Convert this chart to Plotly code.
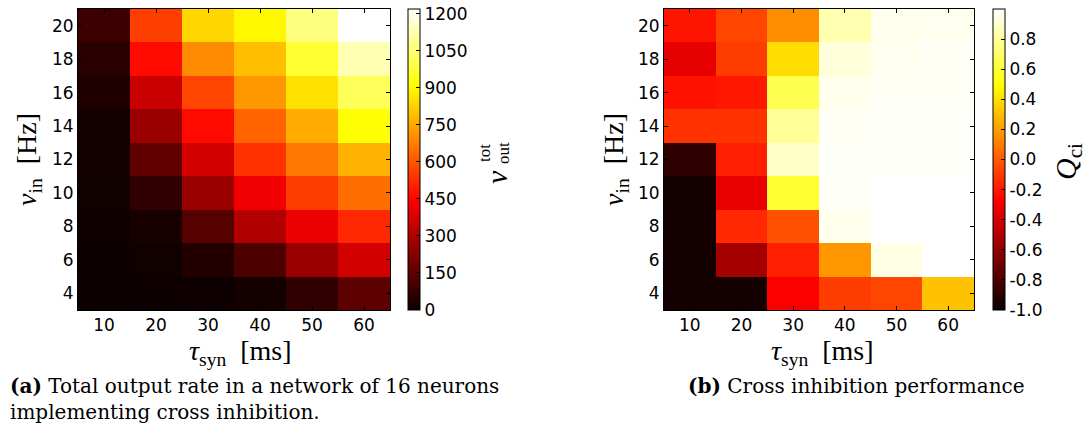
import plotly.graph_objects as go

tau_syn = [10, 20, 30, 40, 50, 60]
nu_in = [4, 6, 8, 10, 12, 14, 16, 18, 20]

# total output rate, rows = nu_in (4..20), cols = tau_syn (10..60)
rate = [
    [5, 6, 8, 20, 70, 149],
    [6, 12, 44, 122, 262, 366],
    [8, 25, 140, 305, 410, 518],
    [10, 70, 262, 419, 555, 646],
    [15, 157, 366, 536, 665, 772],
    [20, 262, 463, 627, 757, 915],
    [36, 349, 571, 720, 855, 1019],
    [55, 463, 701, 793, 971, 1127],
    [90, 561, 836, 897, 1065, 1220],
]

# cross inhibition performance Q_ci
qci = [
    [-0.97, -0.97, -0.28, -0.09, -0.06, 0.31],
    [-0.97, -0.54, -0.18, 0.18, 0.95, 1.0],
    [-0.97, -0.15, -0.03, 0.96, 1.0, 1.0],
    [-0.97, -0.33, 0.59, 0.99, 1.0, 1.0],
    [-0.89, -0.18, 0.89, 0.99, 0.99, 0.99],
    [-0.12, -0.12, 0.79, 0.98, 0.99, 0.99],
    [-0.22, -0.20, 0.65, 0.96, 0.98, 0.98],
    [-0.34, -0.09, 0.39, 0.93, 0.97, 0.98],
    [-0.21, -0.064, 0.15, 0.84, 0.96, 0.97],
]

rate_ticks = [0, 150, 300, 450, 600, 750, 900, 1050, 1200]
q_ticks = [-1.0, -0.8, -0.6, -0.4, -0.2, 0.0, 0.2, 0.4, 0.6, 0.8]
q_ticktext = ["%.1f" % v for v in q_ticks]

hot = [
    [0.0, "rgb(10,0,0)"],
    [0.365079, "rgb(255,0,0)"],
    [0.746032, "rgb(255,255,0)"],
    [1.0, "rgb(255,255,255)"],
]

W, H = 1088, 436
def px(x):
    return x / W
def py(y):
    return 1 - y / H

tickfont = dict(family="DejaVu Sans", size=17, color="black")
serif = "Liberation Serif"

fig = go.Figure()
fig.add_trace(go.Heatmap(
    x=tau_syn, y=nu_in, z=rate, colorscale=hot, zmin=0, zmax=1220,
    xaxis="x", yaxis="y",
    colorbar=dict(
        x=px(408), xanchor="left", y=py(310), yanchor="bottom",
        len=(310 - 9) / H, lenmode="fraction", thickness=12,
        outlinecolor="black", outlinewidth=1,
        tickvals=rate_ticks, ticks="inside", ticklen=4, tickcolor="black",
        tickfont=tickfont, xpad=0, ypad=0,
    ),
))
fig.add_trace(go.Heatmap(
    x=tau_syn, y=nu_in, z=qci, colorscale=hot, zmin=-1.0, zmax=1.0,
    xaxis="x2", yaxis="y2",
    colorbar=dict(
        x=px(993), xanchor="left", y=py(310), yanchor="bottom",
        len=(310 - 9) / H, lenmode="fraction", thickness=12,
        outlinecolor="black", outlinewidth=1,
        tickvals=q_ticks, ticktext=q_ticktext, ticks="inside", ticklen=4,
        tickcolor="black", tickfont=tickfont, xpad=0, ypad=0,
    ),
))

axcommon = dict(showline=True, linecolor="black", linewidth=1, mirror="ticks",
                ticks="inside", ticklen=4, tickcolor="black", showgrid=False,
                zeroline=False, tickfont=tickfont)

fig.update_layout(
    width=W, height=H, margin=dict(l=0, r=0, t=0, b=0),
    paper_bgcolor="white", plot_bgcolor="white",
    xaxis=dict(domain=[px(78), px(390)], range=[5, 65], tickvals=tau_syn,
               anchor="y", **axcommon),
    yaxis=dict(domain=[py(310), py(9)], range=[3, 21], tickvals=nu_in,
               anchor="x", **axcommon),
    xaxis2=dict(domain=[px(664), px(974)], range=[5, 65], tickvals=tau_syn,
                anchor="y2", **axcommon),
    yaxis2=dict(domain=[py(310), py(9)], range=[3, 21], tickvals=nu_in,
                anchor="x2", **axcommon),
)

def ann(x, y, text, size, angle=0, xanchor="center", font=serif):
    fig.add_annotation(x=px(x), y=py(y), xref="paper", yref="paper",
                       text=text, showarrow=False, textangle=angle,
                       xanchor=xanchor, yanchor="middle",
                       font=dict(family=font, size=size, color="black"))

# axis titles
xt = "<i>τ</i><sub>syn</sub>\u00a0\u00a0[ms]"
yt = "<i>ν</i><sub>in</sub>\u00a0\u00a0[Hz]"
ann(240, 352, xt, 28)
ann(822, 352, xt, 28)
ann(28, 160, yt, 28, angle=-90)
ann(615, 160, yt, 28, angle=-90)
# colorbar titles
ann(497, 177, "<i>ν</i>", 30, angle=-90)
ann(484, 153, "tot", 17, angle=-90)
ann(503, 153, "out", 17, angle=-90)
ann(1068, 162, "<i>Q</i><sub>ci</sub>", 30, angle=-90)

# captions
capfont = "DejaVu Serif"
ann(8, 386, "<b>(a)</b> Total output rate in a network of 16 neurons", 20,
    xanchor="left", font=capfont)
ann(8, 412, "implementing cross inhibition.", 20, xanchor="left", font=capfont)
ann(686, 386, "<b>(b)</b> Cross inhibition performance", 20, xanchor="left",
    font=capfont)

fig.write_html("out.html")
